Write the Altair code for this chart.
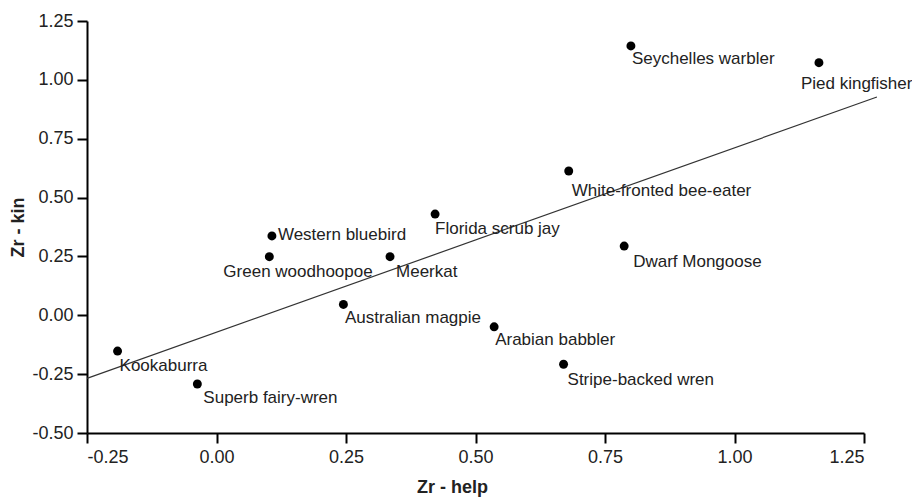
import altair as alt
import pandas as pd

species = [
    "Seychelles warbler", "Pied kingfisher", "White-fronted bee-eater",
    "Florida scrub jay", "Western bluebird", "Green woodhoopoe", "Meerkat",
    "Dwarf Mongoose", "Australian magpie", "Arabian babbler",
    "Stripe-backed wren", "Kookaburra", "Superb fairy-wren",
]
zr_help = [0.800, 1.163, 0.680, 0.422, 0.107, 0.102, 0.335,
           0.787, 0.245, 0.536, 0.670, -0.191, -0.037]
zr_kin = [1.144, 1.073, 0.613, 0.430, 0.337, 0.249, 0.249,
          0.294, 0.046, -0.049, -0.208, -0.152, -0.292]

# label offsets (pixels) relative to each point
label_dx = [1, -18, 3, 0, 6, -46, 6, 9, 1.5, 1, 4, 2, 6]
label_dy = [18, 26, 25, 20, 4.5, 20.5, 20, 21, 18.5, 18, 21, 19.5, 19]

# fitted regression line end points
line_x = [-0.25, 1.275]
line_y = [-0.268, 0.927]

x_ticks = [-0.25, 0.0, 0.25, 0.5, 0.75, 1.0, 1.25]
y_ticks = [-0.5, -0.25, 0.0, 0.25, 0.5, 0.75, 1.0, 1.25]

pts = pd.DataFrame({"species": species, "help": zr_help, "kin": zr_kin,
                    "ldx": label_dx, "ldy": label_dy})
fit = pd.DataFrame({"help": line_x, "kin": line_y})

FONT = "Liberation Sans"
LABEL_EXPR = ("datum.value < 0 ? '-' + format(abs(datum.value), '.2f') "
              ": format(datum.value, '.2f')")

xscale = alt.Scale(domain=[-0.25, 1.25], nice=False, zero=False)
yscale = alt.Scale(domain=[-0.5, 1.25], nice=False, zero=False)

xaxis = alt.Axis(values=x_ticks, labelExpr=LABEL_EXPR, title="Zr - help",
                 titleX=365, titleY=59, titleBaseline="alphabetic",
                 labelPadding=5)
yaxis = alt.Axis(values=y_ticks, labelExpr=LABEL_EXPR, title="Zr - kin",
                 titleX=-69, titleY=206, titleAngle=270,
                 titleBaseline="middle", titleAlign="center", labelPadding=4)

line = alt.Chart(fit).mark_line(color="#333333", strokeWidth=1.2).encode(
    x=alt.X("help:Q", scale=xscale, axis=xaxis),
    y=alt.Y("kin:Q", scale=yscale, axis=yaxis),
)

points = alt.Chart(pts).mark_circle(color="black", opacity=1, size=80).encode(
    x=alt.X("help:Q", scale=xscale),
    y=alt.Y("kin:Q", scale=yscale),
)

labels = alt.Chart(pts).mark_text(
    align="left", baseline="alphabetic", font=FONT, fontSize=17,
    color="#222222", dx={"expr": "datum.ldx"}, dy={"expr": "datum.ldy"},
).encode(
    x=alt.X("help:Q", scale=xscale),
    y=alt.Y("kin:Q", scale=yscale),
    text="species:N",
)

chart = alt.layer(line, points, labels).properties(
    width=777, height=412,
    autosize=alt.AutoSizeParams(type="none"),
    padding={"left": 79, "top": 13, "right": 48, "bottom": 64},
).configure_view(stroke=None).configure_axis(
    grid=False,
    domainColor="black", domainWidth=2,
    tickColor="black", tickWidth=2, tickSize=10,
    labelFont=FONT, labelFontSize=18, labelColor="#222222",
    titleFont=FONT, titleFontSize=18, titleFontWeight="bold",
    titleColor="#222222",
)

chart.save("out.html", embed_options={"renderer": "svg", "actions": False})
